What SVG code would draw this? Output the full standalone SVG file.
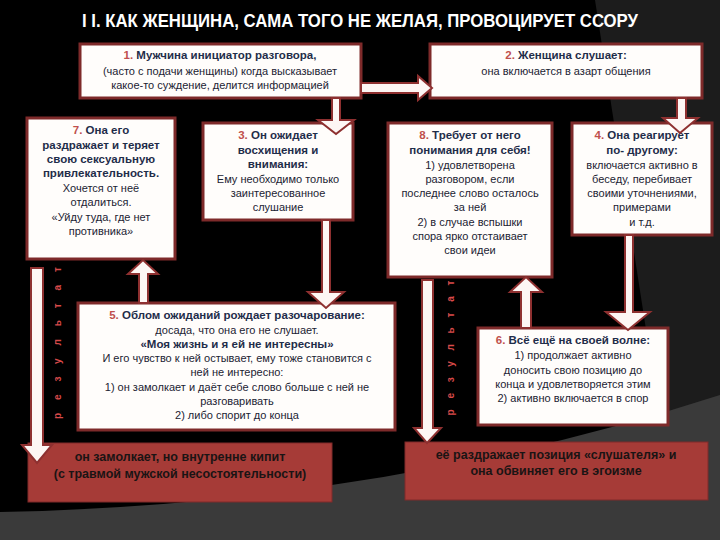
<svg xmlns="http://www.w3.org/2000/svg" width="720" height="540" viewBox="0 0 720 540">
<style>
.box{fill:#fffdfb;stroke:#7e2a2a;stroke-width:3}
.res{fill:#a63b37;stroke:#7e2a2a;stroke-width:1}
.arr{fill:#fdf6f4;stroke:#8e3030;stroke-width:2}
text{font-family:"Liberation Sans",Arial,sans-serif;font-size:11px;fill:#1c2333;text-anchor:middle}
.b{font-weight:bold;font-size:11.5px;fill:#1f2d4a}
.n{fill:#c0504d;font-weight:bold}
.r{font-weight:bold;font-size:12.5px;fill:#1a1414}
.v{font-weight:bold;font-size:10px;fill:#d84a4a}
.t{font-family:"Liberation Sans Narrow","Liberation Sans",sans-serif;font-weight:bold;font-size:18px;fill:#fff}
</style>
<rect width="720" height="540" fill="#000"/>
<polygon points="595,0 720,0 720,410 660,420" fill="#1c1c1c"/>
<path d="M0,512 Q380,505 720,395 L720,540 L0,540 Z" fill="#3a3a3a"/>
<text class="t" x="360" y="27" textLength="556" lengthAdjust="spacingAndGlyphs">I I. КАК ЖЕНЩИНА, САМА ТОГО НЕ ЖЕЛАЯ, ПРОВОЦИРУЕТ ССОРУ</text>
<g id="n1"><rect class="box" x="80" y="44" width="281" height="54"/>
<text class="b" x="220" y="59"><tspan class="n">1.</tspan> Мужчина инициатор разговора,</text>
<text x="220" y="75">(часто с подачи женщины) когда высказывает</text>
<text x="220" y="89">какое-то суждение, делится информацией</text></g>
<g id="n2"><rect class="box" x="430" y="44" width="272" height="54"/>
<text class="b" x="566" y="59"><tspan class="n">2.</tspan> Женщина слушает:</text>
<text x="566" y="75">она включается в азарт общения</text></g>
<g id="n7"><rect class="box" x="27" y="118" width="148" height="141"/>
<text class="b" x="101" y="134"><tspan class="n">7.</tspan> Она его</text>
<text class="b" x="101" y="149">раздражает  и теряет</text>
<text class="b" x="101" y="163">свою сексуальную</text>
<text class="b" x="101" y="177">привлекательность.</text>
<text x="101" y="192">Хочется от неё</text>
<text x="101" y="206">отдалиться.</text>
<text x="101" y="221">«Уйду туда, где нет</text>
<text x="101" y="235">противника»</text></g>
<g id="n3"><rect class="box" x="203" y="123" width="150" height="97"/>
<text class="b" x="278" y="139"><tspan class="n">3.</tspan> Он ожидает</text>
<text class="b" x="278" y="154">восхищения и</text>
<text class="b" x="278" y="168">внимания:</text>
<text x="278" y="183">Ему необходимо только</text>
<text x="278" y="197">заинтересованное</text>
<text x="278" y="211">слушание</text></g>
<g id="n8"><rect class="box" x="388" y="123" width="164" height="154"/>
<text class="b" x="470" y="139"><tspan class="n">8.</tspan> Требует от него</text>
<text class="b" x="470" y="154">понимания для себя!</text>
<text x="470" y="169">1) удовлетворена</text>
<text x="470" y="183">разговором, если</text>
<text x="470" y="197">последнее слово осталось</text>
<text x="470" y="211">за ней</text>
<text x="470" y="226">2) в случае вспышки</text>
<text x="470" y="240">спора ярко отстаивает</text>
<text x="470" y="254">свои идеи</text></g>
<g id="n4"><rect class="box" x="572" y="123" width="140" height="112"/>
<text class="b" x="642" y="139"><tspan class="n">4.</tspan> Она реагирует</text>
<text class="b" x="642" y="154">по- другому:</text>
<text x="642" y="169">включается активно в</text>
<text x="642" y="183">беседу, перебивает</text>
<text x="642" y="197">своими уточнениями,</text>
<text x="642" y="211">примерами</text>
<text x="642" y="226">и т.д.</text></g>
<g id="n5"><rect class="box" x="78" y="303" width="317" height="127"/>
<text class="b" x="237" y="319"><tspan class="n">5.</tspan> Облом ожиданий рождает разочарование:</text>
<text x="237" y="334">досада, что она его не слушает.</text>
<text class="b" x="237" y="348">«Моя жизнь и я ей не интересны»</text>
<text x="237" y="362">И его чувство к ней остывает, ему тоже становится с</text>
<text x="237" y="376">ней не интересно:</text>
<text x="237" y="391">1) он замолкает и даёт себе слово больше с ней не</text>
<text x="237" y="405">разговаривать</text>
<text x="237" y="419">2) либо спорит до конца</text></g>
<g id="n6"><rect class="box" x="478" y="328" width="190" height="97"/>
<text class="b" x="573" y="344"><tspan class="n">6.</tspan> Всё ещё на своей волне:</text>
<text x="573" y="359">1) продолжает активно</text>
<text x="573" y="374">доносить свою позицию до</text>
<text x="573" y="388">конца и удовлетворяется этим</text>
<text x="573" y="402">2) активно включается в спор</text></g>
<g id="r1"><rect class="res" x="28" y="443" width="304" height="59"/>
<text class="r" x="180" y="461">он замолкает, но внутренне кипит</text>
<text class="r" x="180" y="478">(с травмой мужской несостоятельности)</text></g>
<g id="r2"><rect class="res" x="405" y="442" width="303" height="58"/>
<text class="r" x="556" y="459">её раздражает позиция «слушателя» и</text>
<text class="r" x="556" y="475">она обвиняет его в эгоизме</text></g>
<g id="connectors">
<polygon class="arr" points="361,83 418,83 418,76 432,88 418,100 418,93 361,93"/>
<polygon class="arr" points="332,98 340,98 340,120 354,120 336,134 318,120 332,120"/>
<polygon class="arr" points="322,220 330,220 330,292 344,292 326,308 308,292 322,292"/>
<polygon class="arr" points="139,303 139,274 128,274 143,260 158,274 148,274 148,303"/>
<polygon class="arr" points="31,268 43,268 43,445 52,445 37,463 22,445 31,445"/>
<polygon class="arr" points="677,98 686,98 686,118 698,118 680,133 663,118 677,118"/>
<polygon class="arr" points="625,235 633,235 633,312 650,312 628,330 606,312 625,312"/>
<polygon class="arr" points="521,328 521,292 510,292 526,277 542,292 531,292 531,328"/>
<polygon class="arr" points="422,280 433,280 433,428 441,428 427,443 414,428 422,428"/>
<text class="v" transform="translate(61,343) rotate(-90)" textLength="152">результат</text>
<text class="v" transform="translate(454,348) rotate(-90)" textLength="135">результат</text>
</g>
</svg>
